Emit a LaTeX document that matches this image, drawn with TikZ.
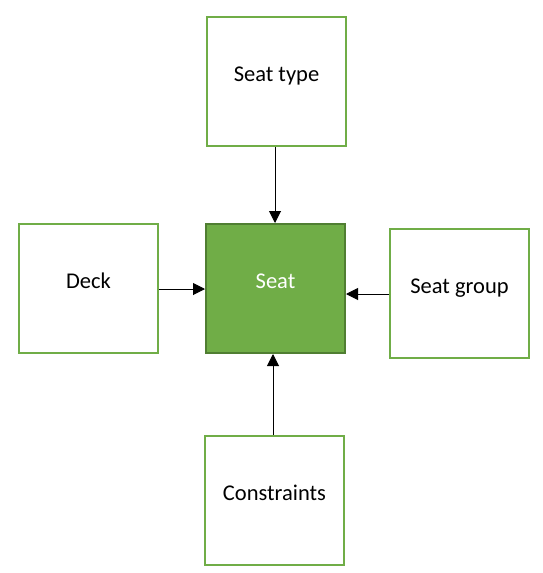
\documentclass[tikz,border=0pt]{standalone}
\usepackage{fontspec}
\setmainfont{Carlito}
\usetikzlibrary{arrows.meta}
\definecolor{grn}{HTML}{70AD47}
\definecolor{dgrn}{HTML}{507E32}
\begin{document}
\begin{tikzpicture}[x=1pt,y=-1pt,
  box/.style={draw=grn,line width=2pt,fill=white,minimum width=139pt,minimum height=129pt,inner sep=0pt,anchor=north west},
  mainbox/.style={box,draw=dgrn,fill=grn},
  lbl/.style={font=\fontsize{22.5pt}{27pt}\selectfont,inner sep=0pt,anchor=base},
  conn/.style={line width=1pt,-{Triangle[length=12pt,width=12pt]}}]
\useasboundingbox (0,0) rectangle (543,573);
\node[box] (type) at (206,16) {};
\node[box] (deck) at (18,223) {};
\node[mainbox] (seat) at (205,223) {};
\node[box] (group) at (389,228) {};
\node[box] (cons) at (204,434.5) {};
\node[lbl] (ttype) at (type.center) {Seat type};
\node[lbl] (tdeck) at (deck.center) {Deck};
\node[lbl,text=white] (tseat) at (seat.center) {Seat};
\node[lbl] (tgroup) at (group.center) {Seat group};
\node[lbl] (tcons) at (cons.center) {Constraints};
\draw[conn] (type.south -| 275,0) coordinate (t1) -- (seat.north -| t1);
\draw[conn] (deck.east |- 0,289) coordinate (d1) -- (seat.west |- d1);
\draw[conn] (group.west |- 0,294) coordinate (g1) -- (seat.east |- g1);
\draw[conn] (cons.north -| 273,0) coordinate (c1) -- (seat.south -| c1);
\end{tikzpicture}
\end{document}
